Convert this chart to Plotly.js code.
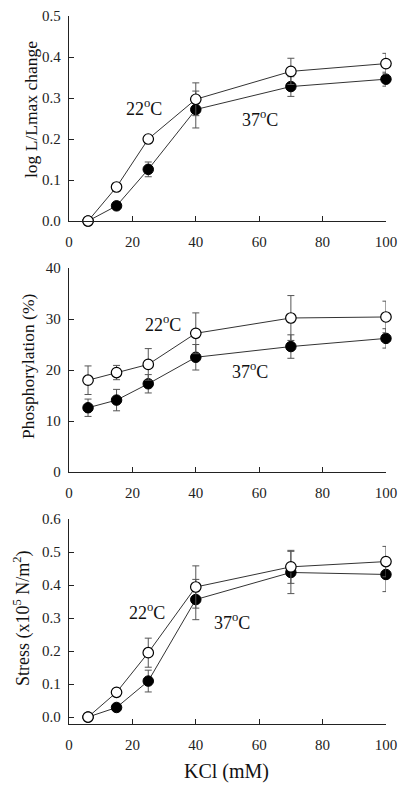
<!DOCTYPE html>
<html>
<head>
<meta charset="utf-8">
<script src="https://cdn.plot.ly/plotly-3.0.1.min.js"></script>
<style>html,body{margin:0;padding:0;background:#fff}#plot{width:405px;height:786px}</style>
</head>
<body>
<div id="plot"></div>
<script>
// KCl concentrations (mM)
const kcl = [6, 15, 25, 40, 70, 100];

// Panel 1: log L/Lmax change
const logL_22 = [0, 0.083, 0.200, 0.297, 0.365, 0.384];
const logL_22_err = [0, 0, 0, 0.040, 0.032, 0.025];
const logL_37 = [0, 0.037, 0.126, 0.272, 0.328, 0.346];
const logL_37_err = [0, 0, 0.018, 0.045, 0.024, 0.017];

// Panel 2: Phosphorylation (%)
const phos_22 = [18.0, 19.5, 21.1, 27.2, 30.2, 30.4];
const phos_22_err = [2.8, 1.4, 3.1, 4.0, 4.4, 3.1];
const phos_37 = [12.6, 14.1, 17.3, 22.5, 24.6, 26.2];
const phos_37_err = [1.7, 2.1, 1.8, 2.5, 2.3, 1.9];

// Panel 3: Stress (x10^5 N/m^2)
const stress_22 = [0, 0.075, 0.195, 0.394, 0.455, 0.471];
const stress_22_err = [0, 0, 0.044, 0.064, 0.050, 0.046];
const stress_37 = [0, 0.029, 0.109, 0.356, 0.438, 0.432];
const stress_37_err = [0, 0, 0.033, 0.061, 0.064, 0.052];

const xTicks = [0, 20, 40, 60, 80, 100];

const serif = "Liberation Serif, Times New Roman, serif";
const lineCol = "#333";
const errCol = "#555";

function pair(y22, e22, y37, e37, xa, ya) {
  const filled = {
    x: kcl, y: y37, xaxis: xa, yaxis: ya, type: "scatter", mode: "lines+markers",
    line: {color: lineCol, width: 1},
    marker: {size: 10.5, color: "#000", line: {color: "#000", width: 1}},
    error_y: {type: "data", array: e37, visible: true, color: errCol, thickness: 1, width: 3.5},
    showlegend: false, cliponaxis: false
  };
  const open = {
    x: kcl, y: y22, xaxis: xa, yaxis: ya, type: "scatter", mode: "lines+markers",
    line: {color: lineCol, width: 1},
    marker: {size: 10.5, color: "#fff", line: {color: "#000", width: 1.2}},
    error_y: {type: "data", array: e22, visible: true, color: errCol, thickness: 1, width: 3.5},
    showlegend: false, cliponaxis: false
  };
  return [filled, open];
}

const data = [
  ...pair(logL_22, logL_22_err, logL_37, logL_37_err, "x", "y"),
  ...pair(phos_22, phos_22_err, phos_37, phos_37_err, "x2", "y2"),
  ...pair(stress_22, stress_22_err, stress_37, stress_37_err, "x3", "y3")
];

const tickFont = {family: serif, size: 15, color: "#222"};

function xAx(anchor) {
  return {
    domain: [0.1704, 0.953], range: [0, 100], anchor: anchor,
    tickvals: xTicks, ticktext: xTicks.map(String),
    ticks: "inside", ticklen: 5, tickwidth: 1, tickcolor: "#222",
    showline: true, linecolor: "#222", linewidth: 1.3,
    showgrid: false, zeroline: false, tickfont: tickFont,
    ticklabelstandoff: 7, fixedrange: true
  };
}
function yAx(anchor, dom, rng, vals, txt) {
  return {
    domain: dom, range: rng, anchor: anchor,
    tickvals: vals, ticktext: txt,
    ticks: "inside", ticklen: 5, tickwidth: 1, tickcolor: "#222",
    showline: true, linecolor: "#222", linewidth: 1.3,
    showgrid: false, zeroline: false, tickfont: tickFont,
    ticklabelstandoff: 4, fixedrange: true
  };
}

const y1Vals = [0, 0.1, 0.2, 0.3, 0.4, 0.5];
const y1Txt = ["0.0", "0.1", "0.2", "0.3", "0.4", "0.5"];
const y2Vals = [0, 10, 20, 30, 40];
const y2Txt = ["0", "10", "20", "30", "40"];
const y3Vals = [0, 0.1, 0.2, 0.3, 0.4, 0.5, 0.6];
const y3Txt = ["0.0", "0.1", "0.2", "0.3", "0.4", "0.5", "0.6"];

const labFont = {family: serif, size: 18, color: "#111"};
const titleFont = {family: serif, size: 17.5, color: "#111"};

function paperLabel(px, py, text, font, angle) {
  return {xref: "paper", yref: "paper", x: px / 405, y: 1 - py / 786, text: text,
    textangle: angle, showarrow: false, font: font, xanchor: "center", yanchor: "middle"};
}

const layout = {
  width: 405, height: 786,
  margin: {l: 0, r: 0, t: 0, b: 0},
  paper_bgcolor: "#fff", plot_bgcolor: "#fff",
  showlegend: false,
  xaxis: xAx("y"),
  yaxis: yAx("x", [0.7188, 0.9796], [0, 0.5], y1Vals, y1Txt),
  xaxis2: xAx("y2"),
  yaxis2: yAx("x2", [0.3995, 0.659], [0, 40], y2Vals, y2Txt),
  xaxis3: xAx("y3"),
  yaxis3: yAx("x3", [0.0789, 0.3397], [-0.021, 0.6], y3Vals, y3Txt),
  annotations: [
    {xref: "x", yref: "y", x: 23.7, y: 0.278, text: "22<sup>o</sup>C", showarrow: false, font: labFont},
    {xref: "x", yref: "y", x: 60.3, y: 0.249, text: "37<sup>o</sup>C", showarrow: false, font: labFont},
    {xref: "x2", yref: "y2", x: 29.7, y: 29.1, text: "22<sup>o</sup>C", showarrow: false, font: labFont},
    {xref: "x2", yref: "y2", x: 57.0, y: 20.0, text: "37<sup>o</sup>C", showarrow: false, font: labFont},
    {xref: "x3", yref: "y3", x: 24.6, y: 0.321, text: "22<sup>o</sup>C", showarrow: false, font: labFont},
    {xref: "x3", yref: "y3", x: 51.4, y: 0.288, text: "37<sup>o</sup>C", showarrow: false, font: labFont},
    paperLabel(31, 110, "log L/Lmax change", titleFont, -90),
    paperLabel(28, 366, "Phosphorylation (%)", titleFont, -90),
    paperLabel(22, 618, "Stress (x10<sup>5</sup> N/m<sup>2</sup>)", {family: serif, size: 18, color: "#111"}, -90),
    paperLabel(227, 771, "KCl (mM)", {family: serif, size: 20, color: "#111"}, 0)
  ]
};

Plotly.newPlot("plot", data, layout, {displayModeBar: false, staticPlot: true});
</script>
</body>
</html>
